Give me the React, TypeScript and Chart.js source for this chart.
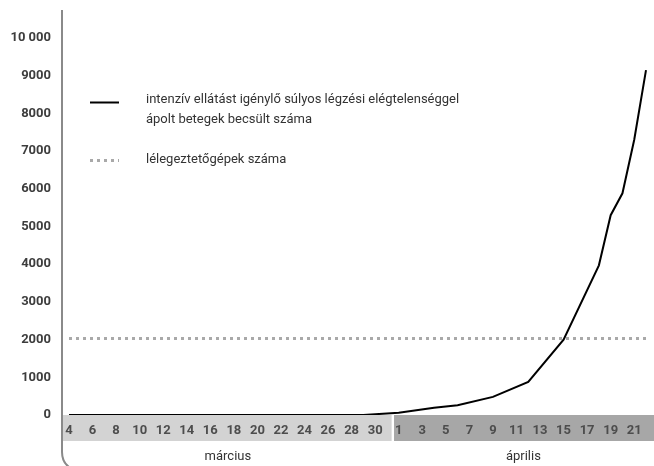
import React, { useEffect, useRef } from "react";
import { Chart, registerables } from "chart.js";

Chart.register(...registerables);

// Categories: every day from 4 March to 22 April
const categories = [
  "03-04", "03-05", "03-06", "03-07", "03-08", "03-09", "03-10", "03-11", "03-12", "03-13",
  "03-14", "03-15", "03-16", "03-17", "03-18", "03-19", "03-20", "03-21", "03-22", "03-23",
  "03-24", "03-25", "03-26", "03-27", "03-28", "03-29", "03-30", "03-31",
  "04-01", "04-02", "04-03", "04-04", "04-05", "04-06", "04-07", "04-08", "04-09", "04-10",
  "04-11", "04-12", "04-13", "04-14", "04-15", "04-16", "04-17", "04-18", "04-19", "04-20",
  "04-21", "04-22",
];

// Tick labels shown under each category ("" = no label)
const xTickLabels = [
  "4", "", "6", "", "8", "", "10", "", "12", "",
  "14", "", "16", "", "18", "", "20", "", "22", "",
  "24", "", "26", "", "28", "", "30", "",
  "1", "", "3", "", "5", "", "7", "", "9", "",
  "11", "", "13", "", "15", "", "17", "", "19", "",
  "21", "",
];

const yTickLabels = ["0", "1000", "2000", "3000", "4000", "5000", "6000", "7000", "8000", "9000", "10 000"];

const monthNames = ["március", "április"];

// Estimated number of ICU patients with severe respiratory failure
const patients: (number | null)[] = [
  0, 0, 0, 0, 0, 0, 0, 0, 0, 0,
  0, 0, 0, 0, 0, 0, 0, 0, 0, 0,
  0, 0, 0, 0, 0, 0, null, null,
  60, null, null, 190, null, 260, null, null, 480, null,
  null, 880, null, null, 2000, null, null, 3970, 5300, 5880,
  7300, 9150,
];

// Number of ventilators
const ventilators: number[] = [
  2030, 2030, 2030, 2030, 2030, 2030, 2030, 2030, 2030, 2030,
  2030, 2030, 2030, 2030, 2030, 2030, 2030, 2030, 2030, 2030,
  2030, 2030, 2030, 2030, 2030, 2030, 2030, 2030,
  2030, 2030, 2030, 2030, 2030, 2030, 2030, 2030, 2030, 2030,
  2030, 2030, 2030, 2030, 2030, 2030, 2030, 2030, 2030, 2030,
  2030, 2030,
];

const legendLabels = [
  ["intenzív ellátást igénylő súlyos légzési elégtelenséggel", "ápolt betegek becsült száma"],
  ["lélegeztetőgépek száma"],
];

const FONT = "Roboto, 'Noto Sans', sans-serif";
const VENT_COLOR = "#a9a9a9";

const decorPlugin = {
  id: "decor",
  beforeDraw(chart: any) {
    const { ctx } = chart;
    const x = chart.scales.x;
    const split = (x.getPixelForValue(27) + x.getPixelForValue(28)) / 2;
    ctx.save();
    ctx.fillStyle = "#d3d3d3";
    ctx.fillRect(63, 415, split - 1.2 - 63, 26);
    ctx.fillStyle = "#a7a7a7";
    ctx.fillRect(split + 1.2, 415, chart.width - split - 1.2, 26);
    ctx.restore();
  },
  afterDraw(chart: any) {
    const { ctx } = chart;
    const x = chart.scales.x;
    const split = (x.getPixelForValue(27) + x.getPixelForValue(28)) / 2;
    ctx.save();
    // y axis line with curved bottom
    ctx.strokeStyle = "#8a8a8a";
    ctx.lineWidth = 2;
    ctx.beginPath();
    ctx.moveTo(62, 10);
    ctx.lineTo(62, 452);
    ctx.quadraticCurveTo(62, 462, 69, 467);
    ctx.stroke();

    // month labels
    ctx.fillStyle = "#333";
    ctx.font = `13px ${FONT}`;
    ctx.textAlign = "center";
    ctx.textBaseline = "middle";
    ctx.fillText(monthNames[0], (63 + split) / 2, 457);
    ctx.fillText(monthNames[1], (split + chart.width) / 2, 457);

    // legend
    ctx.textAlign = "left";
    ctx.strokeStyle = "#000";
    ctx.lineWidth = 2;
    ctx.beginPath();
    ctx.moveTo(90, 102.5);
    ctx.lineTo(119, 102.5);
    ctx.stroke();
    ctx.fillStyle = "#333";
    ctx.fillText(legendLabels[0][0], 146, 100);
    ctx.fillText(legendLabels[0][1], 146, 120);

    ctx.strokeStyle = VENT_COLOR;
    ctx.lineWidth = 3;
    ctx.setLineDash([3, 4]);
    ctx.beginPath();
    ctx.moveTo(90, 160.5);
    ctx.lineTo(119, 160.5);
    ctx.stroke();
    ctx.setLineDash([]);
    ctx.fillText(legendLabels[1][0], 146, 160);
    ctx.restore();
  },
};

export default function App() {
  const ref = useRef<HTMLCanvasElement | null>(null);

  useEffect(() => {
    document.body.style.margin = "0";
    const canvas = ref.current;
    if (!canvas) return;
    const chart = new Chart(canvas, {
      type: "line",
      data: {
        labels: categories,
        datasets: [
          {
            label: legendLabels[1][0],
            data: ventilators,
            borderColor: VENT_COLOR,
            borderWidth: 3,
            borderDash: [3, 4],
            pointRadius: 0,
            tension: 0,
            fill: false,
          },
          {
            label: legendLabels[0].join(" "),
            data: patients,
            borderColor: "#000",
            borderWidth: 2,
            pointRadius: 0,
            tension: 0,
            spanGaps: true,
            fill: false,
          },
        ],
      },
      options: {
        animation: false,
        responsive: false,
        devicePixelRatio: 1,
        layout: { padding: { top: 38, right: 3, left: 0, bottom: 0 } },
        plugins: {
          legend: { display: false },
          tooltip: { enabled: false },
        },
        scales: {
          x: {
            type: "category",
            offset: false,
            grid: { display: false, drawTicks: false },
            border: { display: false },
            ticks: {
              autoSkip: false,
              maxRotation: 0,
              minRotation: 0,
              padding: 8,
              color: "#4d4d4d",
              font: { family: FONT, size: 13, weight: "bold" },
              callback: (_v: any, i: number) => xTickLabels[i],
            },
            afterFit: (scale: any) => {
              scale.height = 51;
            },
          },
          y: {
            min: 0,
            max: 10000,
            grid: { display: false, drawTicks: false },
            border: { display: false },
            ticks: {
              stepSize: 1000,
              padding: 18,
              color: "#3d3d3d",
              font: { family: FONT, size: 13, weight: "bold" },
              callback: (_v: any, i: number) => yTickLabels[i],
            },
            afterFit: (scale: any) => {
              scale.width = 69;
            },
          },
        },
      },
      plugins: [decorPlugin],
    });
    return () => chart.destroy();
  }, []);

  return (
    <div style={{ position: "absolute", left: 0, top: 0, width: 654, height: 466 }}>
      <canvas ref={ref} width={654} height={466} style={{ display: "block" }} />
    </div>
  );
}
